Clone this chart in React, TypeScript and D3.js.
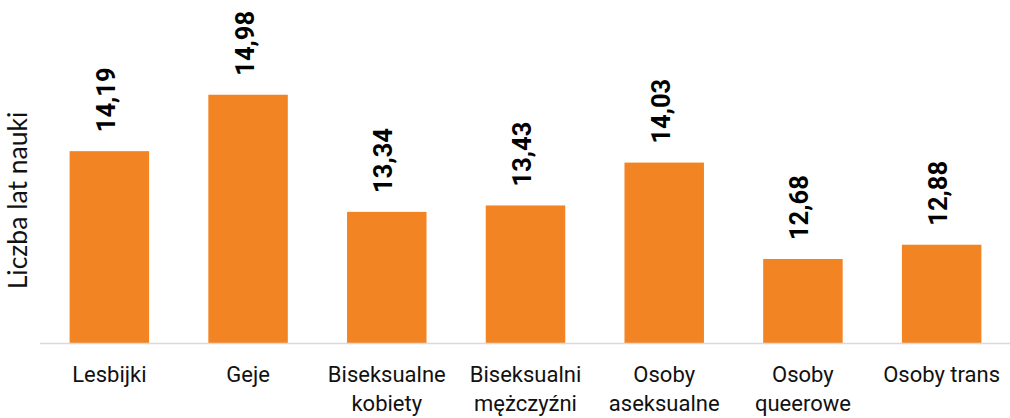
import React from "react";
import * as d3 from "d3";

const categories: string[][] = [
  ["Lesbijki"],
  ["Geje"],
  ["Biseksualne", "kobiety"],
  ["Biseksualni", "mężczyźni"],
  ["Osoby", "aseksualne"],
  ["Osoby", "queerowe"],
  ["Osoby trans"],
];
const values: number[] = [14.19, 14.98, 13.34, 13.43, 14.03, 12.68, 12.88];
const yDomain: [number, number] = [11.5, 15.5];
const axisTitle = "Liczba lat nauki";

const W = 1010;
const H = 418;
const BAR = "#f38424";

export default function App() {
  const keys = categories.map((c) => c.join(" "));
  const x = d3.scaleBand<string>().domain(keys).range([40, 1011]).paddingInner(0.427).paddingOuter(0.2135);
  const y = d3.scaleLinear().domain(yDomain).range([343.3, 57.6]);
  const fmt = (v: number) => d3.format(".2f")(v).replace(".", ",");

  return (
    <svg width={W} height={H} style={{ position: "absolute", left: 0, top: 0, background: "#fff" }}>
      <g>
        {values.map((v, i) => {
          const k = keys[i];
          const x0 = x(k)!;
          return (
            <rect key={k} x={x0} y={y(v)} width={x.bandwidth()} height={y(yDomain[0]) - y(v)} fill={BAR} />
          );
        })}
      </g>
      <line x1={40} x2={W} y1={343.5} y2={343.5} stroke="#d9d9d9" strokeWidth={1.6} />
      <g fontFamily="Roboto, sans-serif" fontWeight={700} fontSize={25.5} fill="#000">
        {values.map((v, i) => {
          const cx = x(keys[i])! + x.bandwidth() / 2;
          const ty = y(v) - 19;
          return (
            <text key={keys[i]} transform={`translate(${cx + 5.5},${ty}) rotate(-90)`} textAnchor="start">
              {fmt(v)}
            </text>
          );
        })}
      </g>
      <g fontFamily="Roboto, sans-serif" fontSize={22} fill="#111">
        {categories.map((lines, i) => {
          const cx = x(keys[i])! + x.bandwidth() / 2;
          return (
            <text key={keys[i]} textAnchor="middle">
              {lines.map((l, j) => (
                <tspan key={j} x={cx} y={381.7 + j * 29}>
                  {l}
                </tspan>
              ))}
            </text>
          );
        })}
      </g>
      <text
        transform={`translate(27,200.5) rotate(-90)`}
        textAnchor="middle"
        fontFamily="Lato, sans-serif"
        fontSize={26.5}
        fill="#111"
      >
        {axisTitle}
      </text>
    </svg>
  );
}
